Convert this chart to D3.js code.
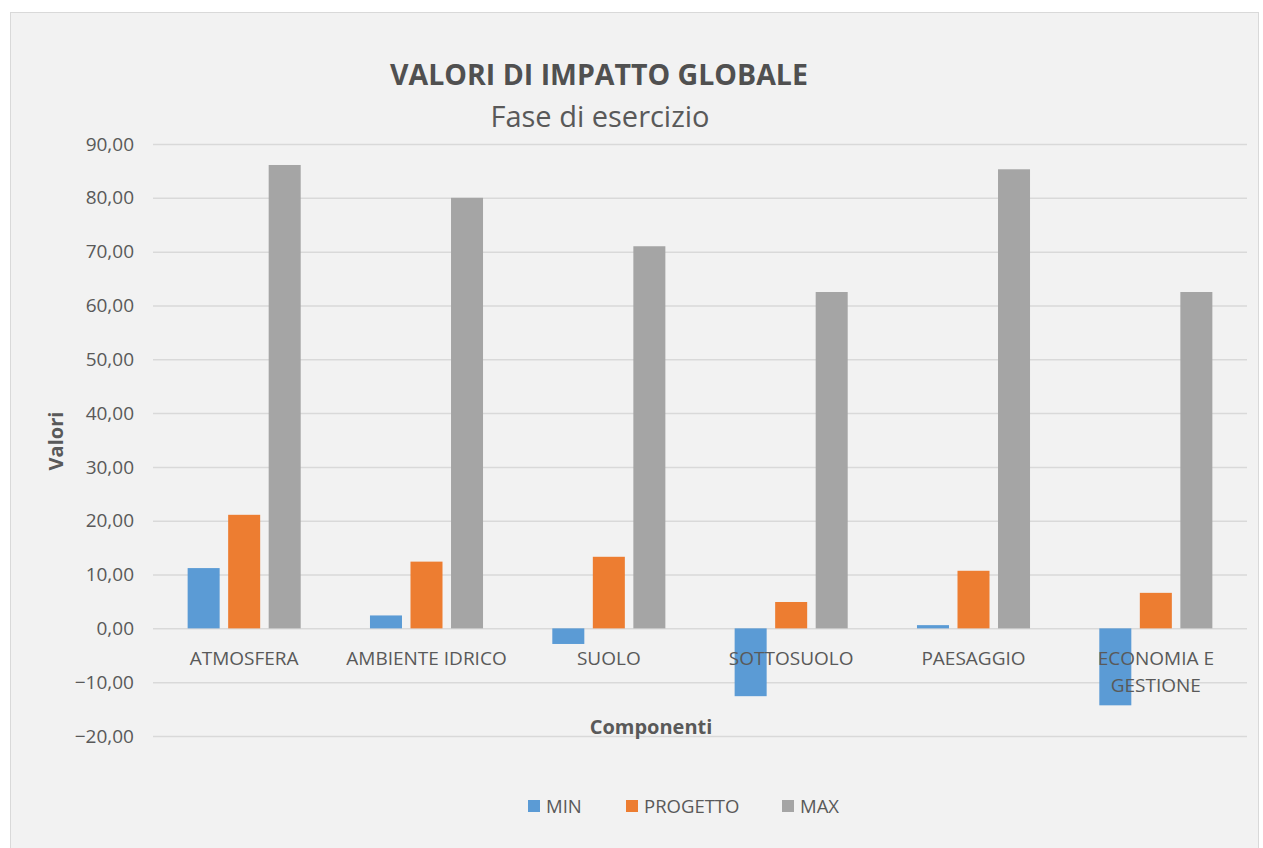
<!DOCTYPE html>
<html><head><meta charset="utf-8">
<script src="https://cdn.jsdelivr.net/npm/d3@7"></script>
<style>body{margin:0;background:#fff}svg{display:block}text{font-family:"Open Sans",sans-serif}</style>
</head><body><svg id="c" width="1263" height="848"></svg>
<script>
const categories = ["ATMOSFERA","AMBIENTE IDRICO","SUOLO","SOTTOSUOLO","PAESAGGIO","ECONOMIA E GESTIONE"];
const seriesNames = ["MIN","PROGETTO","MAX"];
const minValues = [11.2, 2.4, -2.9, -12.6, 0.6, -14.3];
const progettoValues = [21.1, 12.4, 13.3, 4.9, 10.7, 6.6];
const maxValues = [86.1, 80.0, 71.0, 62.5, 85.3, 62.5];
const yTicks = [-20,-10,0,10,20,30,40,50,60,70,80,90];
const colors = ["#5b9bd5","#ed7d31","#a5a5a5"];

const svg = d3.select("#c");
svg.append("rect").attr("x",10.5).attr("y",12.5).attr("width",1248).attr("height",840)
  .attr("fill","#f2f2f2").attr("stroke","#d9d9d9");

const L=153, R=1247;
const y = d3.scaleLinear().domain([-20,90]).range([736,144]);
const x = d3.scaleBand().domain(categories).range([L,R]).paddingInner(0).paddingOuter(0);
const xs = d3.scaleBand().domain(seriesNames).range([0,x.bandwidth()]).paddingInner(0.21).paddingOuter(0.855);

const fmt = v => d3.format(".2f")(v).replace(".",",");
const yAxis = svg.append("g").attr("transform",`translate(${L},0)`)
  .call(d3.axisLeft(y).tickValues(yTicks).tickSize(-(R-L)).tickPadding(19).tickFormat(fmt));
yAxis.select(".domain").remove();
yAxis.selectAll(".tick line").attr("stroke","#d9d9d9").attr("stroke-width",1.5);
yAxis.selectAll(".tick text").attr("fill","#595959").style("font-size","19px").attr("font-family","Open Sans");

const data = [minValues, progettoValues, maxValues];
const g = svg.append("g");
categories.forEach((c,i)=>{
  seriesNames.forEach((s,j)=>{
    const v = data[j][i];
    g.append("rect").attr("x",x(c)+xs(s)).attr("width",xs.bandwidth())
      .attr("y",y(Math.max(0,v))).attr("height",Math.abs(y(v)-y(0)))
      .attr("fill",colors[j]);
  });
});

const xl = svg.append("g");
categories.forEach(c=>{
  const cx = x(c)+x.bandwidth()/2;
  const lines = c==="ECONOMIA E GESTIONE" ? ["ECONOMIA E","GESTIONE"] : [c];
  lines.forEach((t,k)=>{
    xl.append("text").attr("x",cx).attr("y",665+k*27).attr("text-anchor","middle")
      .attr("fill","#595959").style("font-size","19px").text(t);
  });
});

svg.append("text").attr("x",599).attr("y",85).attr("text-anchor","middle").attr("fill","#505050")
  .style("font-size","28.5px").style("font-weight","bold").text("VALORI DI IMPATTO GLOBALE");
svg.append("text").attr("x",600).attr("y",127).attr("text-anchor","middle").attr("fill","#595959")
  .style("font-size","29px").text("Fase di esercizio");
svg.append("text").attr("transform","translate(63,441) rotate(-90)").attr("text-anchor","middle").attr("fill","#595959")
  .style("font-size","20px").style("font-weight","bold").text("Valori");
svg.append("text").attr("x",651).attr("y",734).attr("text-anchor","middle").attr("fill","#595959")
  .style("font-size","20px").style("font-weight","bold").text("Componenti");

const legX = [528,626,782];
seriesNames.forEach((s,j)=>{
  svg.append("rect").attr("x",legX[j]).attr("y",800).attr("width",12).attr("height",12).attr("fill",colors[j]);
  svg.append("text").attr("x",legX[j]+18).attr("y",812.5).attr("fill","#595959").style("font-size","18.5px").text(s);
});
</script></body></html>
